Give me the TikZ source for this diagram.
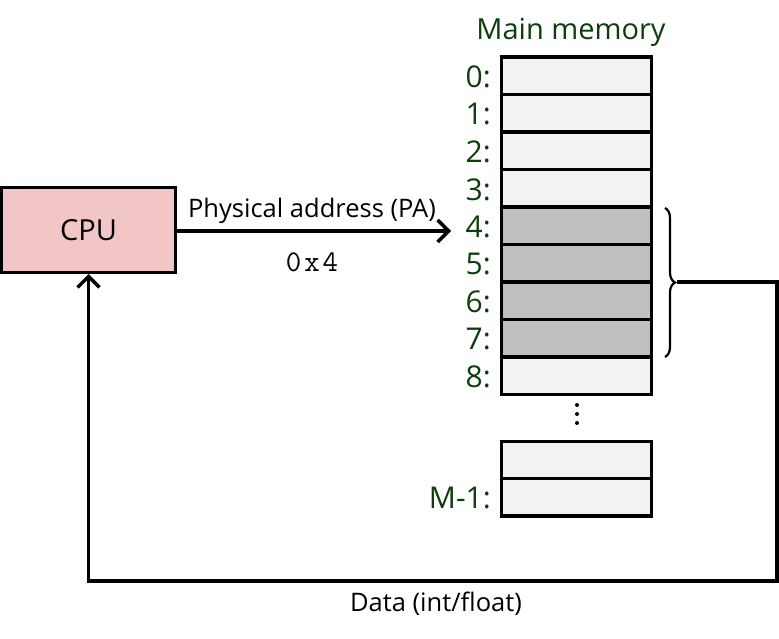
\documentclass[tikz,border=0pt]{standalone}
\usepackage{fontspec}
\setmainfont{Open Sans}
\usetikzlibrary{arrows.meta,decorations.pathreplacing}
\definecolor{lblgreen}{RGB}{12,62,12}
\definecolor{cpupink}{RGB}{242,198,198}
\definecolor{celllight}{RGB}{242,242,242}
\definecolor{celldark}{RGB}{191,191,191}
\tikzset{
  cell/.style={draw=black, line width=3.5pt, minimum width=150pt, minimum height=37.5pt, inner sep=0pt, outer sep=0pt},
  addr/.style={text=lblgreen, anchor=east, inner sep=0pt, font=\fontsize{30}{32}\selectfont},
  wire/.style={line width=3.5pt},
  arr/.style={wire, -{Straight Barb[length=11pt,width=22pt,line width=3.5pt]}},
  lbl/.style={font=\fontsize{25.5}{28}\selectfont, inner sep=0pt}
}
\begin{document}
\begin{tikzpicture}[x=1pt,y=-1pt]
\useasboundingbox (0,0) rectangle (779,639);
% CPU
\node[draw=black, line width=3pt, fill=cpupink, minimum width=174pt, minimum height=85pt, inner sep=0pt,
      font=\fontsize{29}{32}\selectfont] (cpu) at (88.5,230) {CPU};
% title
\node[text=lblgreen, font=\fontsize{29}{32}\selectfont, inner sep=0pt] (title) at (571,32) {Main memory};
% cells
\foreach \i/\f in {0/celllight,1/celllight,2/celllight,3/celllight,4/celldark,5/celldark,6/celldark,7/celldark,8/celllight}{
  \node[cell, fill=\f] (c\i) at (576.5,{75.75+37.5*\i}) {};
  \node[addr] (l\i) at (491,{77+37.5*\i}) {\i:};
}
\node[cell, fill=celllight] (cm2) at (576.5,460) {};
\node[cell, fill=celllight] (cm1) at (576.5,497) {};
\node[addr] (lm1) at (491,498) {M-1:};
% vertical dots
\foreach \yy in {405,414,423} \fill (577,\yy) circle (2pt);
% address arrow
\coordinate (pa) at (451,231);
\draw[arr] (cpu.east |- pa) -- (pa);
\node[lbl] (palbl) at (312,211) {Physical address (PA)};
\node[inner sep=0pt, font=\fontsize{30}{32}\ttfamily] (val) at (312,262) {0\hspace{3pt}x\hspace{3pt}4};
% brace
\draw[line width=2.2pt, decorate, decoration={brace, amplitude=10pt, aspect=0.5}] (665,208) -- (665,357);
\coordinate (bt) at (677,282);
\coordinate (r1) at (777,282);
\coordinate (r2) at (777,581);
\draw[arr] (bt) -- (r1) -- (r2) -| (cpu.south);
\node[lbl] (datalbl) at (436,604) {Data (int/float)};
\end{tikzpicture}
\end{document}
